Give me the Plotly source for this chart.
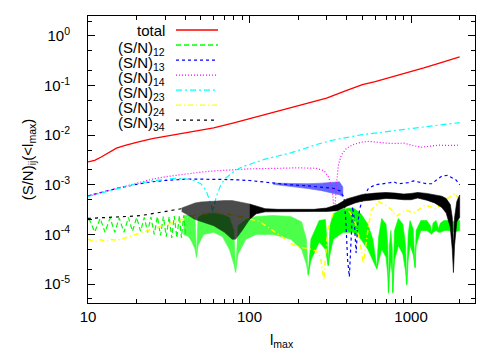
import plotly.graph_objects as go

FONTE = "Liberation Sans, Arial, Helvetica, sans-serif"

# ---- total ----
L_TOTAL = [10, 11, 12, 13, 15, 17, 20, 25, 30, 40, 50, 60, 80, 100, 150, 200, 250, 300,
           400, 500, 600, 700, 850, 1000, 1200, 1500, 1800, 2000]
SN_TOTAL = [2.9e-3, 3.1e-3, 3.6e-3, 4.2e-3, 5.5e-3, 6.2e-3, 7.2e-3, 8.5e-3, 9.4e-3, 0.011,
            0.0125, 0.014, 0.0178, 0.0215, 0.031, 0.0395, 0.048, 0.056, 0.08, 0.105, 0.12,
            0.138, 0.162, 0.188, 0.227, 0.284, 0.34, 0.38]

# ---- (S/N)12 : zigzag at low l, then oscillation band ----
L_12 = [10.0, 10.2, 11.0, 11.9, 12.75, 13.7, 14.65, 15.6, 16.7, 17.8, 18.85, 20.0, 21.15,
        22.3, 23.4, 24.5, 25.7, 26.9, 28.1, 29.3, 30.5, 31.8, 33.0, 34.2, 35.5, 36.8, 37.9,
        39.1, 40.2]
SN_12 = [1.95e-4, 2.0e-4, 1.12e-4, 2.1e-4, 1.1e-4, 2.15e-4, 1.1e-4, 2.15e-4, 1.1e-4, 2.2e-4,
         1.15e-4, 2.2e-4, 1.15e-4, 2.2e-4, 1.1e-4, 2.25e-4, 1.0e-4, 2.3e-4, 9.5e-5, 2.3e-4,
         9.0e-5, 2.3e-4, 8.5e-5, 2.35e-4, 8.5e-5, 2.4e-4, 8.5e-5, 2.4e-4, 1.0e-4]
L_12_FAIXA = [39, 42, 44, 46, 47, 48, 52, 60, 68, 75, 80, 82, 85, 95, 110, 140, 180, 210, 225,
              231, 240, 270, 295, 303, 307, 315, 330, 380, 440, 490, 540, 580, 614, 630, 658,
              700, 718, 725, 735, 750, 765, 771, 790, 835, 890, 925, 940, 960, 985, 1030,
              1052, 1060, 1075, 1150, 1250, 1320, 1340, 1370, 1430, 1480, 1520, 1600, 1700,
              1800, 1900, 2000]
SN_12_SUP = [2.4e-4, 2.4e-4, 2.4e-4, 2.0e-4, 3.6e-5, 2.2e-4, 2.6e-4, 2.7e-4, 2.5e-4, 2.2e-4,
             1.2e-4, 1.8e-5, 1.5e-4, 2.0e-4, 2.3e-4, 2.4e-4, 2.3e-4, 1.8e-4, 8e-5, 1.6e-5,
             8e-5, 1.9e-4, 2.0e-4, 6e-5, 2.4e-5, 1.5e-4, 2.6e-4, 3.3e-4, 3.4e-4, 2.6e-4,
             1.6e-4, 8e-5, 2.1e-5, 9e-5, 2.1e-4, 1.6e-4, 6e-5, 7e-6, 6e-5, 1.2e-4,
             5e-5, 7e-6, 1.2e-4, 2.1e-4, 1.6e-4, 6e-5, 1e-5, 1.0e-4, 1.9e-4, 1.3e-4,
             5e-5, 2.2e-5, 1.2e-4, 1.9e-4, 1.9e-4, 1.5e-4, 1.05e-4, 1.7e-4, 1.9e-4, 1.3e-4,
             1.7e-4, 1.9e-4, 1.9e-4, 1.8e-4, 1.9e-4, 1.9e-4]
SN_12_INF = [1.0e-4, 9e-5, 7e-5, 5e-5, 3.4e-5, 6e-5, 1.0e-4, 1.1e-4, 9e-5, 5e-5,
             2.5e-5, 1.7e-5, 4e-5, 8e-5, 1.0e-4, 1.0e-4, 8e-5, 5e-5, 2.5e-5, 1.5e-5,
             3e-5, 7e-5, 5e-5, 3e-5, 2.3e-5, 4e-5, 8e-5, 1.1e-4, 1.1e-4, 8e-5,
             5e-5, 3e-5, 2e-5, 3e-5, 5e-5, 3.5e-5, 1.5e-5, 6.5e-6, 1.5e-5, 3e-5,
             1.5e-5, 6.5e-6, 3e-5, 6e-5, 4e-5, 1.8e-5, 9.5e-6, 3e-5, 6e-5, 4e-5,
             2.5e-5, 2.1e-5, 6e-5, 1.2e-4, 1.2e-4, 1.05e-4, 1.0e-4, 1.1e-4, 1.2e-4, 1.1e-4,
             1.1e-4, 1.2e-4, 1.2e-4, 1.15e-4, 1.15e-4, 1.2e-4]

# ---- (S/N)13 ----
L_13 = [10, 12, 15, 20, 25, 30, 40, 50, 60, 80, 100, 130, 180, 230, 280, 330, 365, 385, 395,
        405, 415, 425, 435, 445, 457, 467, 480, 500, 545, 600, 680, 740, 780, 830, 900, 960,
        1035, 1150, 1250, 1340, 1450, 1550, 1680, 1800, 1900, 2000]
SN_13 = [6.0e-4, 7.0e-4, 8.4e-4, 1.02e-3, 1.15e-3, 1.22e-3, 1.3e-3, 1.3e-3, 1.3e-3, 1.27e-3,
         1.22e-3, 1.1e-3, 1.0e-3, 9.5e-4, 9.0e-4, 8.5e-4, 7.5e-4, 5.5e-4, 1.8e-4, 3e-5,
         1.4e-5, 1.0e-4, 3.6e-4, 2.0e-4, 4.2e-5, 1.5e-4, 3.2e-4, 5e-4, 8.5e-4, 1.0e-3,
         1.05e-3, 1.1e-3, 1.15e-3, 1.05e-3, 1.08e-3, 1.1e-3, 1.2e-3, 1.1e-3, 1.05e-3, 1.05e-3,
         1.3e-3, 1.5e-3, 1.55e-3, 1.4e-3, 1.25e-3, 1.0e-3]
L_13_FAIXA = [140, 180, 230, 280, 330, 360, 378]
SN_13_SUP = [1.08e-3, 1.06e-3, 1.05e-3, 1.08e-3, 1.12e-3, 1.15e-3, 9e-4]
SN_13_INF = [1.02e-3, 9.2e-4, 8.4e-4, 7.6e-4, 6.8e-4, 6.3e-4, 5.8e-4]

# ---- (S/N)14 ----
L_14 = [10, 12, 15, 20, 25, 30, 40, 50, 60, 80, 100, 150, 200, 260, 290, 310, 325, 333, 338,
        345, 355, 370, 400, 440, 500, 550, 650, 750, 900, 1050, 1150, 1300, 1500, 1700, 2000]
SN_14 = [6.0e-4, 7.0e-4, 8.5e-4, 1.1e-3, 1.3e-3, 1.45e-3, 1.65e-3, 1.8e-3, 1.9e-3, 2.0e-3,
         2.1e-3, 2.15e-3, 2.2e-3, 2.15e-3, 1.9e-3, 1.4e-3, 8.0e-4, 3.5e-4, 3.5e-4, 1.0e-3,
         2.5e-3, 4.0e-3, 5.5e-3, 6.5e-3, 7.3e-3, 7.5e-3, 7.2e-3, 6.8e-3, 6.9e-3, 6.2e-3,
         5.7e-3, 6.0e-3, 6.3e-3, 6.2e-3, 6.3e-3]

# ---- (S/N)23 ----
L_23 = [10, 12, 15, 20, 25, 30, 35, 40, 45, 50, 54, 57, 59.5, 62, 66, 70, 80, 90, 100, 125,
        150, 180, 220, 260, 330, 400, 500, 600, 800, 1000, 1300, 1600, 2000]
SN_23 = [5.8e-4, 6.8e-4, 8.3e-4, 1.05e-3, 1.2e-3, 1.3e-3, 1.35e-3, 1.32e-3, 1.22e-3, 1.05e-3,
         7.5e-4, 4.5e-4, 2.9e-4, 5.5e-4, 9.5e-4, 1.3e-3, 1.85e-3, 2.3e-3, 2.6e-3, 3.3e-3,
         3.8e-3, 4.4e-3, 5.4e-3, 6.5e-3, 8.0e-3, 9.0e-3, 1.03e-2, 1.1e-2, 1.25e-2, 1.38e-2,
         1.5e-2, 1.65e-2, 1.79e-2]

# ---- (S/N)24 ----
L_24 = [10, 11, 12, 13, 14, 15, 17, 20, 23, 26, 30, 35, 40, 45, 50, 55, 62, 70, 80, 90,
        100, 116, 130, 145, 162, 180, 204, 230, 260, 275, 283, 289, 293, 298, 305, 315, 330,
        345, 365, 390, 418, 440, 460, 480, 495, 507, 520, 545, 570, 628, 690, 760, 812, 870,
        920, 980, 1035, 1120, 1220, 1330, 1440, 1530, 1620, 1750, 1880, 1950, 2000]
SN_24 = [8.0e-5, 7.2e-5, 7.8e-5, 7.2e-5, 7.9e-5, 7.6e-5, 8.5e-5, 1.0e-4, 1.15e-4, 1.3e-4,
         1.55e-4, 1.8e-4, 2.1e-4, 2.4e-4, 2.55e-4, 2.65e-4, 2.7e-4, 2.6e-4, 2.45e-4, 2.25e-4,
         2.05e-4, 1.8e-4, 1.4e-4, 1.1e-4, 8.5e-5, 6.5e-5, 5.5e-5, 5.2e-5, 4.6e-5, 3.5e-5,
         2.0e-5, 1.2e-5, 2.5e-5, 6e-5, 1.2e-4, 1.8e-4, 2.6e-4, 3.2e-4, 3.5e-4, 3.4e-4,
         2.8e-4, 2.1e-4, 1.4e-4, 8e-5, 4.5e-5, 2.6e-5, 5e-5, 1.5e-4, 3.1e-4, 4.6e-4,
         4.0e-4, 3.1e-4, 2.3e-4, 2.7e-4, 3.1e-4, 2.9e-4, 2.7e-4, 3.2e-4, 3.9e-4, 3.6e-4,
         3.3e-4, 4.0e-4, 4.9e-4, 5.8e-4, 6.7e-4, 5.5e-4, 3.8e-4]

# ---- (S/N)34 ----
L_34 = [10, 12, 15, 18, 20, 23, 26, 30, 34, 38, 40]
SN_34 = [2.1e-4, 2.15e-4, 2.2e-4, 2.25e-4, 2.35e-4, 2.5e-4, 2.7e-4, 2.9e-4, 3.1e-4, 3.3e-4,
         3.4e-4]
L_34_FAIXA = [38, 42, 46, 50, 60, 70, 78, 82, 90, 100, 110, 125, 150, 200, 250, 300, 350,
              400, 450, 500, 600, 700, 800, 900, 1000, 1100, 1250, 1400, 1550, 1650, 1750,
              1800, 1830, 1860, 1920, 2000]
SN_34_SUP = [3.4e-4, 3.9e-4, 4.3e-4, 4.5e-4, 4.7e-4, 4.8e-4, 4.8e-4, 4.7e-4, 4.4e-4, 4.1e-4,
             3.7e-4, 3.3e-4, 3.2e-4, 3.2e-4, 3.2e-4, 3.4e-4, 4.0e-4, 5.2e-4, 5.8e-4, 6.4e-4,
             6.8e-4, 7.0e-4, 6.8e-4, 6.5e-4, 6.7e-4, 7.0e-4, 6.7e-4, 6.3e-4, 5.9e-4, 5.3e-4,
             4.0e-4, 2.2e-4, 6e-5, 2.2e-4, 4.6e-4, 6.2e-4]
SN_34_INF = [2.9e-4, 2.4e-4, 2.0e-4, 1.8e-4, 1.5e-4, 1.1e-4, 8e-5, 8e-5, 1.2e-4, 2.0e-4,
             2.6e-4, 2.85e-4, 2.9e-4, 2.9e-4, 2.9e-4, 2.9e-4, 3.0e-4, 3.7e-4, 4.3e-4, 4.7e-4,
             5.0e-4, 5.3e-4, 5.2e-4, 5.0e-4, 5.0e-4, 5.4e-4, 4.9e-4, 4.3e-4, 3.5e-4, 2.7e-4,
             1.4e-4, 5e-5, 1.7e-5, 6e-5, 1.8e-4, 2.2e-4]

# legenda: (texto, cor, traço)
LEGENDA = [
    ("total", "#ff0000", "solid"),
    ("(S/N)<sub>12</sub>", "#00ff00", "5px,3px"),
    ("(S/N)<sub>13</sub>", "#0000ff", "3px,3px"),
    ("(S/N)<sub>14</sub>", "#ff00ff", "1px,2px"),
    ("(S/N)<sub>23</sub>", "#00ffff", "6px,3px,2px,3px"),
    ("(S/N)<sub>24</sub>", "#ffff00", "5px,3px,1px,3px"),
    ("(S/N)<sub>34</sub>", "#000000", "3px,4px"),
]


def linha(x, y, cor, dash="solid", largura=1.2):
    return go.Scatter(
        x=x, y=y, mode="lines",
        line=dict(color=cor, width=largura, dash=dash),
        showlegend=False, hoverinfo="skip",
    )


def faixa(x, y_sup, y_inf, cor, opacidade=1.0):
    return go.Scatter(
        x=list(x) + list(x)[::-1],
        y=list(y_sup) + list(y_inf)[::-1],
        mode="lines", fill="toself", fillcolor=cor, opacity=opacidade,
        line=dict(color=cor, width=0.6),
        showlegend=False, hoverinfo="skip",
    )


fig = go.Figure()

# faixas: parte "pontilhada" mais clara, parte sólida depois
c12 = L_12_FAIXA.index(231)
c34 = L_34_FAIXA.index(100)

fig.add_trace(linha(L_TOTAL, SN_TOTAL, "#ff0000", largura=1.3))
fig.add_trace(linha(L_12, SN_12, "#00ff00", "5px,3px"))
fig.add_trace(faixa(L_12_FAIXA[:c12 + 1], SN_12_SUP[:c12 + 1], SN_12_INF[:c12 + 1],
                    "#00ff00", 0.7))
fig.add_trace(faixa(L_12_FAIXA[c12:], SN_12_SUP[c12:], SN_12_INF[c12:], "#00ff00"))
fig.add_trace(faixa(L_13_FAIXA, SN_13_SUP, SN_13_INF, "#0000ff", 0.6))
fig.add_trace(linha(L_13, SN_13, "#0000ff", "3px,3px"))
fig.add_trace(linha(L_14, SN_14, "#ff00ff", "1px,2px"))
fig.add_trace(linha(L_23, SN_23, "#00ffff", "6px,3px,2px,3px"))
fig.add_trace(linha(L_24, SN_24, "#ffff00", "5px,3px,1px,3px", largura=1.5))
fig.add_trace(linha(L_34, SN_34, "#000000", "3px,4px"))
fig.add_trace(faixa(L_34_FAIXA[:c34 + 1], SN_34_SUP[:c34 + 1], SN_34_INF[:c34 + 1],
                    "#000000", 0.7))
fig.add_trace(faixa(L_34_FAIXA[c34:], SN_34_SUP[c34:], SN_34_INF[c34:], "#000000"))

# legenda no estilo gnuplot: texto à esquerda, amostra à direita
for i, (texto, cor, dash) in enumerate(LEGENDA):
    y = 0.9512 - i * 0.0523
    fig.add_annotation(
        x=0.204, y=y, xref="paper", yref="paper", text=texto,
        xanchor="right", yanchor="middle", showarrow=False,
        yshift=0 if i == 0 else -3,
        font=dict(size=15, color="black", family=FONTE),
    )
    fig.add_shape(
        type="line", xref="paper", yref="paper",
        x0=0.2274, x1=0.3359, y0=y, y1=y,
        line=dict(color=cor, width=1.3, dash=dash),
    )

# título do eixo x como anotação (não mexe na margem)
fig.add_annotation(
    x=0.5, y=-0.129, xref="paper", yref="paper", text="l<sub>max</sub>",
    xanchor="center", yanchor="middle", showarrow=False,
    font=dict(size=15, color="black", family=FONTE),
)

x_menores = [m * 10 ** k for k in (1, 2, 3) for m in range(2, 10)]
y_menores = [m * 10.0 ** k for k in range(-6, 1) for m in (2, 5)]

fig.update_xaxes(
    type="log", range=[1, 3.396],
    tickvals=[10, 100, 1000], ticktext=["10", "100", "1000"],
    ticks="inside", ticklen=7, tickcolor="black",
    minor=dict(tickvals=x_menores, ticks="inside", ticklen=4, tickcolor="black"),
    showline=True, linecolor="black", linewidth=1, mirror="ticks",
    showgrid=False, zeroline=False,
    tickfont=dict(size=15, family=FONTE, color="black"),
)
fig.update_yaxes(
    type="log", range=[-5.383, 0.403],
    tickvals=[1e-5, 1e-4, 1e-3, 1e-2, 1e-1, 1],
    ticktext=["10<sup>-5</sup>", "10<sup>-4</sup>", "10<sup>-3</sup>",
              "10<sup>-2</sup>", "10<sup>-1</sup>", "10<sup>0</sup>"],
    ticks="inside", ticklen=7, tickcolor="black",
    minor=dict(tickvals=y_menores, ticks="inside", ticklen=4, tickcolor="black"),
    showline=True, linecolor="black", linewidth=1, mirror="ticks",
    showgrid=False, zeroline=False,
    tickfont=dict(size=15, family=FONTE, color="black"),
    ticklabelstandoff=14,
    title=dict(text="(S/N)<sub>ij</sub>(<l<sub>max</sub>)",
               font=dict(size=15, family=FONTE, color="black"), standoff=6),
)

fig.update_layout(
    width=498, height=349,
    margin=dict(l=88, r=23, t=16, b=46),
    paper_bgcolor="white", plot_bgcolor="white",
    font=dict(family=FONTE, color="black"),
    showlegend=False,
)

# a margem do body deslocaria a figura em 8px
fig.write_html(
    "out.html",
    config={"displayModeBar": False},
    post_script="document.body.style.margin='0';",
)
